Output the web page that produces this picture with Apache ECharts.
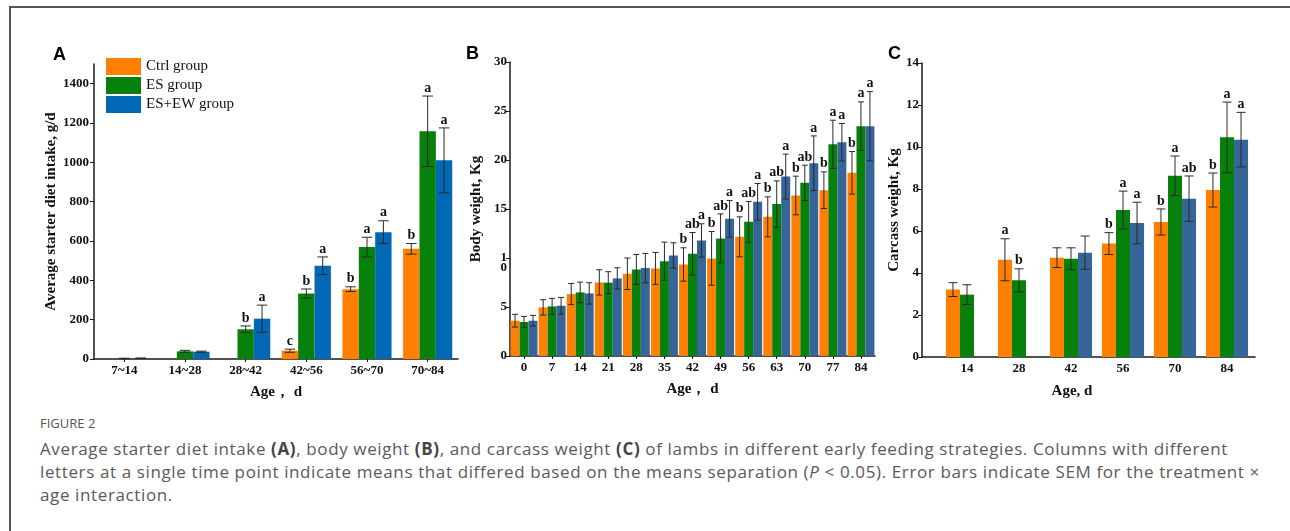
<!DOCTYPE html>
<html>
<head>
<meta charset="utf-8">
<script src="https://cdn.jsdelivr.net/npm/echarts@6/dist/echarts.min.js"></script>
<style>
body { margin: 0; background: #fff; }
#wrap { position: relative; width: 1290px; height: 531px; overflow: hidden; background: #fff; }
#frame { position: absolute; left: 9px; top: 6px; width: 1300px; height: 540px; border-top: 2px solid #555; border-left: 2px solid #555; }
#chart { position: absolute; left: 0; top: 0; width: 1290px; height: 410px; }
#fig { position: absolute; left: 40px; top: 415px; font-family: "Open Sans", sans-serif; font-size: 13px; line-height: 16px; color: #555; }
#caption { position: absolute; left: 40px; top: 437px; font-family: "Open Sans", sans-serif; font-size: 17px; letter-spacing: 0.62px; line-height: 23px; color: #5a5a5a; white-space: nowrap; }
#caption b { color: #444; }
</style>
</head>
<body>
<div id="wrap">
  <div id="frame"></div>
  <div id="chart"></div>
  <div id="fig">FIGURE 2</div>
  <div id="caption">Average starter diet intake <b>(A)</b>, body weight <b>(B)</b>, and carcass weight <b>(C)</b> of lambs in different early feeding strategies. Columns with different<br>letters at a single time point indicate means that differed based on the means separation (<i>P</i> &lt; 0.05). Error bars indicate SEM for the treatment &times;<br>age interaction.</div>
</div>
<script>
// groups
const groups = ['Ctrl group', 'ES group', 'ES+EW group'];

// A: average starter diet intake, g/d
const intakeAges = ['7~14', '14~28', '28~42', '42~56', '56~70', '70~84'];
const intakeCtrl = [null, null, null, 42, 355, 560];
const intakeES = [3, 39, 151, 333, 569, 1158];
const intakeEW = [4, 37, 205, 474, 645, 1010];
const intakeCtrlSem = [null, null, null, 8, 12, 27];
const intakeESSem = [1, 5, 17, 23, 50, 179];
const intakeEWSem = [1, 3, 69, 45, 58, 165];
const intakeCtrlSig = ['', '', '', 'c', 'b', 'b'];
const intakeESSig = ['', '', 'b', 'b', 'a', 'a'];
const intakeEWSig = ['', '', 'a', 'a', 'a', 'a'];

// B: body weight, Kg
const bwAges = ['0', '7', '14', '21', '28', '35', '42', '49', '56', '63', '70', '77', '84'];
const bwCtrl = [3.6, 4.96, 6.32, 7.51, 8.39, 8.94, 9.34, 9.96, 12.16, 14.2, 16.38, 16.92, 18.69];
const bwES = [3.47, 5.06, 6.49, 7.48, 8.83, 9.68, 10.43, 12.0, 13.69, 15.5, 17.67, 21.6, 23.45];
const bwEW = [3.6, 5.13, 6.39, 7.92, 8.97, 10.26, 11.79, 14.0, 15.73, 18.31, 19.67, 21.81, 23.45];
const bwCtrlSem = [0.65, 0.78, 1.08, 1.29, 1.61, 1.63, 1.7, 2.74, 2.04, 2.04, 1.97, 1.87, 2.17];
const bwESSem = [0.57, 0.82, 1.05, 1.12, 1.53, 1.94, 2.17, 2.5, 2.08, 2.37, 1.8, 2.46, 2.48];
const bwEWSem = [0.55, 0.85, 1.09, 1.08, 1.5, 1.29, 1.7, 1.87, 1.87, 2.29, 2.79, 1.91, 3.53];
const bwCtrlSig = ['', '', '', '', '', '', 'b', 'b', 'b', 'b', 'b', 'b', 'b'];
const bwESSig = ['', '', '', '', '', '', 'ab', 'ab', 'ab', 'ab', 'ab', 'a', 'a'];
const bwEWSig = ['', '', '', '', '', '', 'a', 'a', 'a', 'a', 'a', 'a', 'a'];

// C: carcass weight, Kg
const cwAges = ['14', '28', '42', '56', '70', '84'];
const cwCtrl = [3.21, 4.63, 4.73, 5.40, 6.43, 7.95];
const cwES = [2.97, 3.65, 4.68, 7.0, 8.63, 10.46];
const cwEW = [null, null, 4.97, 6.38, 7.54, 10.35];
const cwCtrlSem = [0.33, 1.0, 0.47, 0.52, 0.62, 0.81];
const cwESSem = [0.47, 0.55, 0.52, 0.9, 0.94, 1.68];
const cwEWSem = [null, null, 0.79, 0.99, 1.08, 1.3];
const cwCtrlSig = ['', 'a', '', 'b', 'b', 'b'];
const cwESSig = ['', 'b', '', 'a', 'a', 'a'];
const cwEWSig = ['', '', '', 'a', 'ab', 'a'];

const orange = '#ff8000';
const green = '#08800c';
const blueA = '#0068b4';
const blueB = '#36659a';
const serif = '"Liberation Serif", "Times New Roman", serif';
const axisColor = '#1a1a1a';

let chartDom = document.getElementById('chart');
let myChart = echarts.init(chartDom);

function barSeries(name, data, color, idx, catGap) {
    return {
        type: 'bar', name: name, data: data,
        xAxisIndex: idx, yAxisIndex: idx,
        barGap: '0%', barCategoryGap: catGap,
        itemStyle: { color: color },
        silent: true
    };
}

// error bars + significance letters, drawn next to the bar of group g
function errorSeries(idx, g, values, sems, sigs, catGap) {
    let data = [];
    values.forEach((v, i) => {
        if (v !== null) data.push([i, v, sems[i]]);
    });
    return {
        type: 'custom', name: 'err' + idx + g,
        xAxisIndex: idx, yAxisIndex: idx,
        data: data, silent: true, z: 5,
        renderItem: function (params, api) {
            const i = api.value(0);
            const v = api.value(1);
            const e = api.value(2);
            const band = api.size([1, 0])[0];
            const bw = band * (1 - catGap) / 3;
            const c = api.coord([i, v]);
            const x = c[0] + (g - 1) * bw;
            const top = api.coord([i, v + e])[1];
            const bottom = api.coord([i, v - e])[1];
            const cap = Math.max(3, bw * 0.32);
            const style = { stroke: '#2a2a2a', lineWidth: 1 };
            let children = [
                { type: 'line', shape: { x1: x, y1: top, x2: x, y2: bottom }, style: style },
                { type: 'line', shape: { x1: x - cap, y1: top, x2: x + cap, y2: top }, style: style },
                { type: 'line', shape: { x1: x - cap, y1: bottom, x2: x + cap, y2: bottom }, style: style }
            ];
            const sig = sigs[i];
            if (sig) {
                children.push({
                    type: 'text',
                    style: {
                        text: sig, x: x, y: top - 1,
                        align: 'center', verticalAlign: 'bottom',
                        fontFamily: serif, fontWeight: 'bold', fontSize: 14, fill: '#111'
                    }
                });
            }
            return { type: 'group', children: children };
        }
    };
}

function valueAxis(idx, max, interval, name, nameGap, margin, offset, fmt) {
    return {
        type: 'value', gridIndex: idx, min: 0, max: max, interval: interval,
        offset: offset || 0,
        name: name, nameLocation: 'middle', nameGap: nameGap,
        nameTextStyle: { fontFamily: serif, fontWeight: 'bold', fontSize: 15, color: '#111' },
        axisLine: { show: true, lineStyle: { color: axisColor, width: 1.5 } },
        axisTick: { show: true, length: 4, lineStyle: { color: axisColor } },
        splitLine: { show: false },
        axisLabel: {
            margin: margin, showMaxLabel: max % interval === 0, lineHeight: 10,
            fontFamily: serif, fontWeight: 'bold', fontSize: 13, color: '#111',
            formatter: fmt || ((v) => String(v))
        }
    };
}

function catAxis(idx, cats, name, showLine, ticks) {
    return {
        type: 'category', gridIndex: idx, data: cats,
        name: name, nameLocation: 'middle', nameGap: 26,
        nameTextStyle: { fontFamily: serif, fontWeight: 'bold', fontSize: 15, color: '#111' },
        axisLine: { show: showLine, lineStyle: { color: axisColor, width: 1.5 } },
        axisTick: { show: ticks, alignWithLabel: true, length: 3, lineStyle: { color: axisColor } },
        axisLabel: { margin: 5, interval: 0, fontFamily: serif, fontWeight: 'bold', fontSize: 13, color: '#111' }
    };
}

const gapA = 0.19, gapB = 0.04, gapC = 0.19;
const pct = (g) => (g * 100) + '%';

let option = {
    animation: false,
    title: [
        { text: 'A', left: 53, top: 46, padding: 0, textStyle: { fontFamily: '"Liberation Sans", Arial', fontWeight: 'bold', fontSize: 18, color: '#000' } },
        { text: 'B', left: 466, top: 45, padding: 0, textStyle: { fontFamily: '"Liberation Sans", Arial', fontWeight: 'bold', fontSize: 18, color: '#000' } },
        { text: 'C', left: 888, top: 45, padding: 0, textStyle: { fontFamily: '"Liberation Sans", Arial', fontWeight: 'bold', fontSize: 18, color: '#000' } }
    ],
    legend: {
        data: groups, left: 106, top: 58, orient: 'vertical', padding: 0,
        itemWidth: 35, itemHeight: 17, itemGap: 2, icon: 'rect', selectedMode: false,
        textStyle: { fontFamily: serif, fontSize: 15, color: '#111' }
    },
    grid: [
        { left: 94, top: 64, width: 364, height: 295 },
        { left: 510, top: 62, width: 365, height: 294 },
        { left: 941, top: 63, width: 312, height: 294 },
        { left: 922, top: 63, width: 333, height: 294 }
    ],
    xAxis: [
        catAxis(0, intakeAges, 'Age\uff0c d', true, true),
        catAxis(1, bwAges, 'Age\uff0c d', true, true),
        catAxis(2, cwAges, '', false, false),
        {
            type: 'value', gridIndex: 3, min: 0, max: 1,
            name: 'Age, d', nameLocation: 'middle', nameGap: 27,
            nameTextStyle: { fontFamily: serif, fontWeight: 'bold', fontSize: 15, color: '#111', padding: [0, 33, 0, 0] },
            axisLine: { show: true, lineStyle: { color: axisColor, width: 1.5 } },
            axisTick: { show: false }, axisLabel: { show: false }, splitLine: { show: false }
        }
    ],
    yAxis: [
        valueAxis(0, 1500, 200, 'Average starter diet intake, g/d', 32, 5, 0),
        // the 10 label is broken over two lines in the original figure
        valueAxis(1, 30, 5, 'Body weight, Kg', 26, 3, 0, (v) => v === 10 ? ' \n1\n0' : String(v)),
        valueAxis(2, 14, 2, 'Carcass weight, Kg', 20, 3, 19),
        { type: 'value', gridIndex: 3, show: false, min: 0, max: 1 }
    ],
    series: [
        barSeries(groups[0], intakeCtrl, orange, 0, pct(gapA)),
        barSeries(groups[1], intakeES, green, 0, pct(gapA)),
        barSeries(groups[2], intakeEW, blueA, 0, pct(gapA)),
        barSeries(groups[0], bwCtrl, orange, 1, pct(gapB)),
        barSeries(groups[1], bwES, green, 1, pct(gapB)),
        barSeries(groups[2], bwEW, blueB, 1, pct(gapB)),
        barSeries(groups[0], cwCtrl, orange, 2, pct(gapC)),
        barSeries(groups[1], cwES, green, 2, pct(gapC)),
        barSeries(groups[2], cwEW, blueB, 2, pct(gapC)),
        errorSeries(0, 0, intakeCtrl, intakeCtrlSem, intakeCtrlSig, gapA),
        errorSeries(0, 1, intakeES, intakeESSem, intakeESSig, gapA),
        errorSeries(0, 2, intakeEW, intakeEWSem, intakeEWSig, gapA),
        errorSeries(1, 0, bwCtrl, bwCtrlSem, bwCtrlSig, gapB),
        errorSeries(1, 1, bwES, bwESSem, bwESSig, gapB),
        errorSeries(1, 2, bwEW, bwEWSem, bwEWSig, gapB),
        errorSeries(2, 0, cwCtrl, cwCtrlSem, cwCtrlSig, gapC),
        errorSeries(2, 1, cwES, cwESSem, cwESSig, gapC),
        errorSeries(2, 2, cwEW, cwEWSem, cwEWSig, gapC)
    ]
};

myChart.setOption(option);

window.addEventListener('resize', () => {
    myChart.resize()
})
</script>
</body>
</html>
